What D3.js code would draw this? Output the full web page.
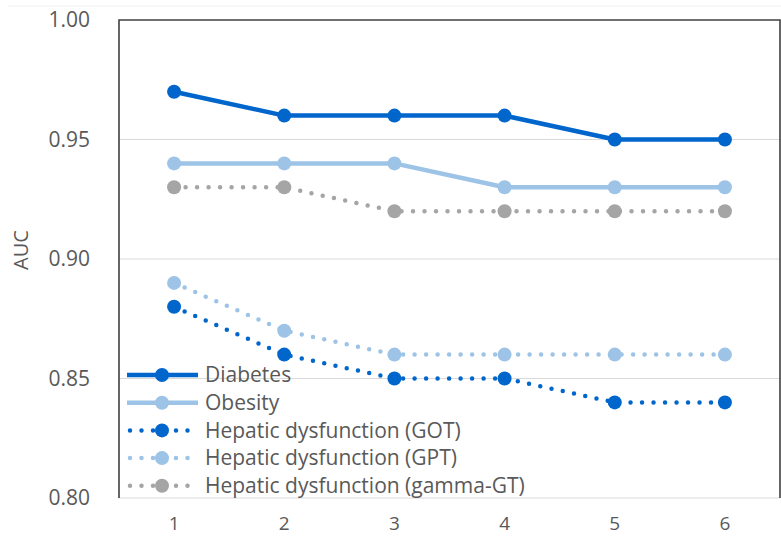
<!DOCTYPE html>
<html><head><meta charset="utf-8">
<script src="https://cdn.jsdelivr.net/npm/d3@7"></script>
<style>body{margin:0;background:#fff}svg{display:block}text{font-family:"Open Sans",sans-serif;fill:#595959}</style>
</head><body><svg id="c" width="781" height="538"></svg>
<script>
const categories = [1, 2, 3, 4, 5, 6];
const seriesNames = ["Diabetes", "Obesity", "Hepatic dysfunction (GOT)", "Hepatic dysfunction (GPT)", "Hepatic dysfunction (gamma-GT)"];
const diabetes = [0.97, 0.96, 0.96, 0.96, 0.95, 0.95];
const obesity = [0.94, 0.94, 0.94, 0.93, 0.93, 0.93];
const got = [0.88, 0.86, 0.85, 0.85, 0.84, 0.84];
const gpt = [0.89, 0.87, 0.86, 0.86, 0.86, 0.86];
const gammaGT = [0.93, 0.93, 0.92, 0.92, 0.92, 0.92];
const yTicks = [0.80, 0.85, 0.90, 0.95, 1.00];

const styles = [
  {color:"#0066CC", dotted:false},
  {color:"#9DC3E6", dotted:false},
  {color:"#0066CC", dotted:true},
  {color:"#9DC3E6", dotted:true},
  {color:"#A5A5A5", dotted:true}
];
const seriesValues = [diabetes, obesity, got, gpt, gammaGT];

const svg = d3.select("#c");
const L = 119, R = 780, T = 20, B = 498;
const x = d3.scaleBand().domain(categories).range([L, R]);
const y = d3.scaleLinear().domain([0.80, 1.00]).range([B, T]);

// faint top line
svg.append("line").attr("x1",8).attr("x2",781).attr("y1",6).attr("y2",6).attr("stroke","#eef0f4").attr("stroke-width",1);

// gridlines
svg.append("g").selectAll("line").data(yTicks.slice(0,4)).join("line")
  .attr("x1",L).attr("x2",R).attr("y1",d=>y(d)).attr("y2",d=>y(d))
  .attr("stroke","#D9D9D9").attr("stroke-width",1.2);

// frame (left, top, right)
svg.append("path").attr("d",`M${L},${B}V${T}H${R}V${B}`).attr("fill","none").attr("stroke","#404040").attr("stroke-width",1.6);

// y axis labels
const yAxis = d3.axisLeft(y).tickValues(yTicks).tickFormat(d3.format(".2f")).tickSize(0).tickPadding(29);
const gy = svg.append("g").attr("transform",`translate(${L},0)`).call(yAxis);
gy.select(".domain").remove();
gy.selectAll("text").style("font-size","21px").attr("fill","#595959").style("font-family","'Open Sans',sans-serif");

// x axis labels
const xAxis = d3.axisBottom(x).tickSize(0).tickPadding(19);
const gx = svg.append("g").attr("transform",`translate(0,${B})`).call(xAxis);
gx.select(".domain").remove();
gx.selectAll("text").style("font-size","19px").attr("fill","#595959").style("font-family","'Open Sans',sans-serif");

svg.append("text").attr("transform","translate(28,250) rotate(-90)").attr("text-anchor","middle")
  .style("font-size","20px").text("AUC");

const line = d3.line().x((d,i)=>x(categories[i])+x.bandwidth()/2).y(d=>y(d));

const order = [4,3,2,1,0];
order.forEach(k=>{
  const s = styles[k], vals = seriesValues[k];
  svg.append("path").datum(vals).attr("d",line).attr("fill","none")
    .attr("stroke",s.color).attr("stroke-width",4.5)
    .attr("stroke-linecap",s.dotted?"round":"butt")
    .attr("stroke-linejoin","round")
    .attr("stroke-dasharray",s.dotted?"0 11.5":null);
  svg.append("g").selectAll("circle").data(vals).join("circle")
    .attr("cx",(d,i)=>x(categories[i])+x.bandwidth()/2).attr("cy",d=>y(d)).attr("r",7)
    .attr("fill",s.color);
});

// legend
const lg = svg.append("g");
seriesNames.forEach((name,i)=>{
  const s = styles[i];
  const yy = 375 + i*27.7;
  const g = lg.append("g");
  if (!s.dotted) {
    g.append("line").attr("x1",127).attr("x2",198).attr("y1",yy).attr("y2",yy)
      .attr("stroke",s.color).attr("stroke-width",4.5);
  } else {
    g.append("line").attr("x1",130).attr("x2",190).attr("y1",yy).attr("y2",yy)
      .attr("stroke",s.color).attr("stroke-width",4.5).attr("stroke-linecap","round").attr("stroke-dasharray","0 11.5");
  }
  g.append("circle").attr("cx",162).attr("cy",yy).attr("r",7).attr("fill",s.color);
  g.append("text").attr("x",205).attr("y",yy).attr("dy","0.35em").style("font-size","21px").text(name);
});
</script></body></html>
